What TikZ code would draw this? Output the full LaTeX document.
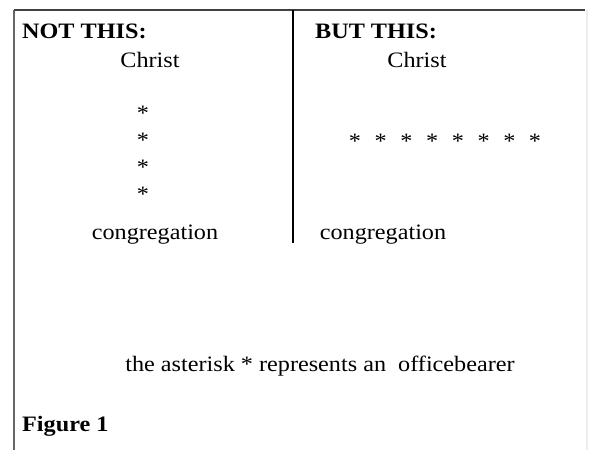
\documentclass[tikz,border=0pt]{standalone}
\usepackage{fontspec}
\setmainfont{Liberation Serif}[FakeStretch=1.1]
\begin{document}
\begin{tikzpicture}[x=1pt,y=-1pt,
  txt/.style={inner sep=0pt,anchor=base,font=\fontsize{22}{26}\selectfont},
  bold/.style={txt,anchor=base west,font=\fontsize{22}{26}\selectfont\bfseries},
  star/.style={txt},
  frameline/.style={line width=2pt,draw=black!75},
  faintline/.style={line width=2pt,draw=black!7},
  divider/.style={line width=1.3pt,draw=black}]
\useasboundingbox (0,0) rectangle (590,450);
\fill[white] (0,0) rectangle (590,450);
% frame
\coordinate (tl) at (14,10);
\coordinate (tr) at (585,10);
\coordinate (bl) at (14,450);
\coordinate (br) at (587,450);
\coordinate (rt) at (587,10);
\draw[faintline] (rt) -- (br);
\draw[line width=2pt,draw=black!60] (tl) -- (bl);
\draw[frameline] (tl) -- (tr);
\coordinate (dtop) at (293,10);
\coordinate (dbot) at (293,243);
\draw[divider] (dtop) -- (dbot);
% left column
\node[bold] (notthis) at (22,38) {NOT THIS:};
\node[txt] (christL) at (150,67) {Christ};
\node[star] (sL1) at (143,120) {*};
\node[star] (sL2) at (143,147) {*};
\node[star] (sL3) at (143,174) {*};
\node[star] (sL4) at (143,201) {*};
\node[txt] (congL) at (155,239) {congregation};
% right column
\node[bold] (butthis) at (315,38) {BUT THIS:};
\node[txt] (christR) at (417,67) {Christ};
\foreach \i/\x in {1/355,2/380.7,3/406.4,4/432.1,5/457.9,6/483.6,7/509.3,8/535}
  \node[star] (sR\i) at (\x,148) {*};
\node[txt] (congR) at (383,239) {congregation};
% legend
\node[txt] (legend) at (320,371) {the asterisk * represents an\ \ officebearer};
\node[bold] (fig) at (22,431) {Figure 1};
\end{tikzpicture}
\end{document}
